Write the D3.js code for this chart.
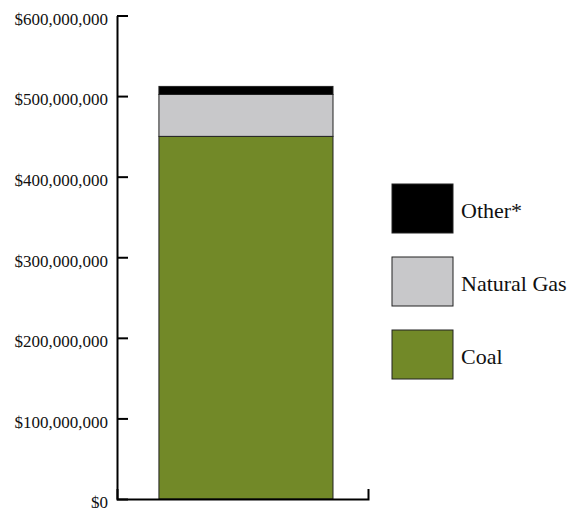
<!doctype html>
<meta charset="utf-8" />
<style>
    body {
        margin: 0;
        background: #ffffff;
    }
    text {
        font-family: "Liberation Serif", "DejaVu Serif", serif;
    }
</style>
<svg></svg>

<script src="https://cdn.jsdelivr.net/npm/d3@7"></script>
<script>
    // data
    var categories = ['Total'];
    var series = ['Coal', 'Natural Gas', 'Other*'];
    var coal = [450000000];
    var naturalGas = [52000000];
    var other = [10000000];
    var colors = ['#728928', '#c8c8ca', '#000000'];
    var yTicks = [0, 100000000, 200000000, 300000000, 400000000, 500000000, 600000000];

    var svg = d3.select('svg')
        .attr('width', 579)
        .attr('height', 508)

    var x = d3.scaleBand()
        .domain(categories)
        .range([117, 368])
        .paddingInner(0)
        .paddingOuter(0.221)
        .align(0.545)

    var y = d3.scaleLinear()
        .domain([0, 600000000])
        .range([499, 15.5])

    var rows = categories.map(function (c, i) {
        return { cat: c, 'Coal': coal[i], 'Natural Gas': naturalGas[i], 'Other*': other[i] };
    });
    var stacked = d3.stack().keys(series)(rows);

    var layers = svg.append('g')
        .selectAll('g')
        .data(stacked)
        .join('g')
        .style('fill', function (d, i) { return colors[i]; })

    layers.selectAll('rect')
        .data(function (d) { return d; })
        .join('rect')
        .attr('x', function (d) { return x(d.data.cat); })
        .attr('width', x.bandwidth())
        .attr('y', function (d) { return y(d[1]); })
        .attr('height', function (d) { return y(d[0]) - y(d[1]); })
        .style('stroke', '#222')
        .style('stroke-width', 1)

    // y axis
    var fmt = function (v) { return '$' + d3.format(',')(v); };
    var yAxis = svg.append('g')
        .attr('transform', 'translate(117,0)')
        .call(d3.axisLeft(y)
            .tickValues(yTicks)
            .tickFormat(fmt)
            .tickSizeInner(-11)
            .tickSizeOuter(0)
            .tickPadding(9))

    yAxis.select('.domain').style('stroke', '#000').style('stroke-width', 2)
    yAxis.selectAll('.tick line').style('stroke', '#000').style('stroke-width', 2)
    yAxis.selectAll('.tick text')
        .attr('dy', '0.52em')
        .style('font-family', '"Liberation Serif", serif')
        .style('font-size', '17px')
        .style('fill', '#111')

    // x axis (baseline with end tick)
    var xAxis = svg.append('g')
        .attr('transform', 'translate(0,499)')
        .call(d3.axisBottom(x).tickValues([]).tickSizeOuter(-10))

    xAxis.select('.domain').style('stroke', '#000').style('stroke-width', 2)

    // legend
    var legendItems = series.slice().reverse();
    var legend = svg.append('g')
        .selectAll('g')
        .data(legendItems)
        .join('g')
        .attr('transform', function (d, i) { return 'translate(392,' + (184 + i * 73) + ')'; })

    legend.append('rect')
        .attr('width', 61)
        .attr('height', 49)
        .style('fill', function (d) { return colors[series.indexOf(d)]; })
        .style('stroke', '#222')
        .style('stroke-width', 1)

    legend.append('text')
        .attr('x', 69)
        .attr('y', 33.5)
        .style('font-size', '22px')
        .style('fill', '#111')
        .text(function (d) { return d; })
</script>
